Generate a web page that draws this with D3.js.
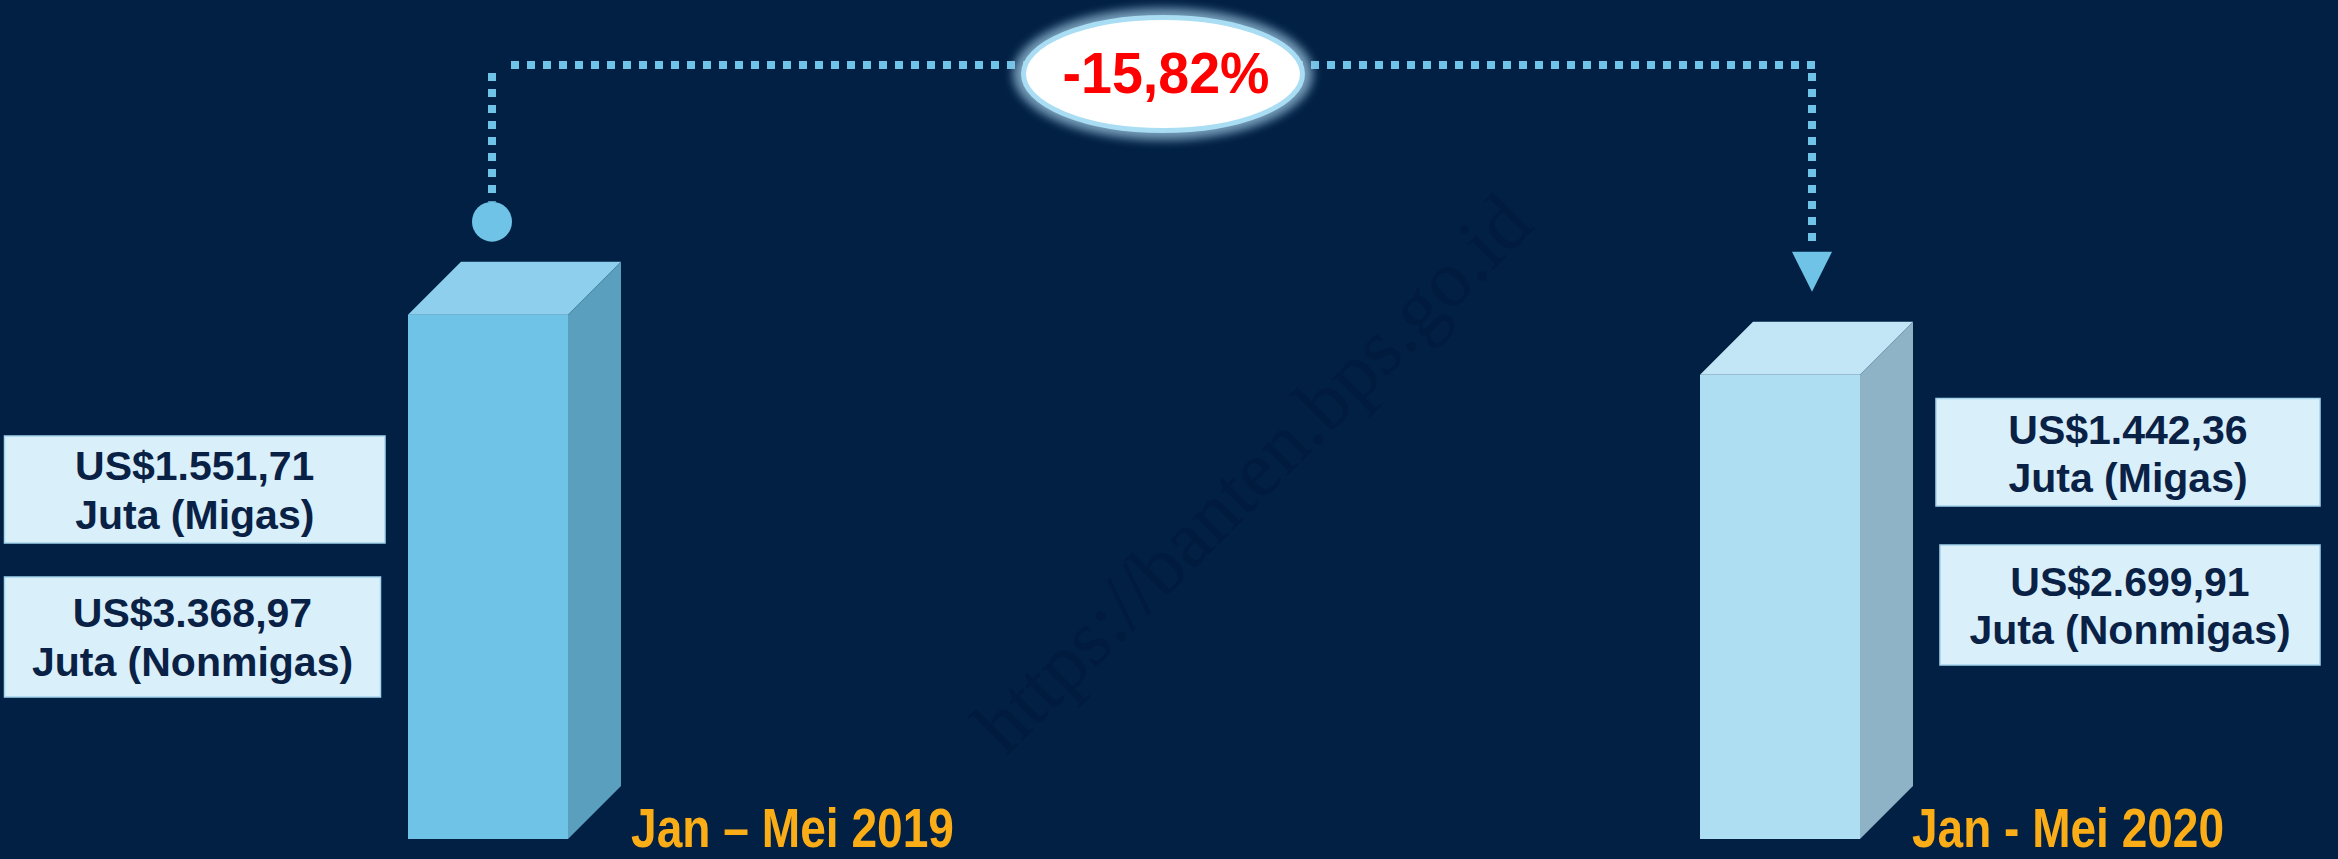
<!DOCTYPE html>
<html>
<head>
<meta charset="utf-8">
<script src="https://cdn.jsdelivr.net/npm/d3@7"></script>
<style>
  html, body { margin: 0; padding: 0; background: #012044; }
  svg { display: block; }
</style>
</head>
<body>
<div id="chart"></div>
<script>
/* global d3 */

// data
const categories = ["Jan \u2013 Mei 2019", "Jan - Mei 2020"];
const migas = [1551.71, 1442.36];
const nonmigas = [3368.97, 2699.91];
const watermark = "https://banten.bps.go.id";

const W = 2338, H = 859;
const barW = 160, depth = 53;
const yFloor = -1860;

const frontColors = ["#6ec3e6", "#aedef2"];
const topColors = ["#8dcfec", "#c3e6f6"];
const sideColors = ["#5a9fbe", "#8fb3c6"];

const idLocale = d3.formatLocale({
    decimal: ",",
    thousands: ".",
    grouping: [3],
    currency: ["US$", ""],
    minus: "-"
});
const money = idLocale.format("$,.2f");
const pct = idLocale.format(".2%");

let totals = categories.map((c, i) => migas[i] + nonmigas[i]);

let svg = d3.select("#chart").append("svg")
    .attr("width", W)
    .attr("height", H);

svg.append("rect")
    .attr("width", W)
    .attr("height", H)
    .attr("fill", "#012044");

let defs = svg.append("defs");
defs.append("filter")
    .attr("id", "glow")
    .attr("x", "-30%").attr("y", "-30%")
    .attr("width", "160%").attr("height", "160%")
    .append("feGaussianBlur")
    .attr("stdDeviation", 5);

let x = d3.scalePoint().domain(categories).range([488, 1780]);
let y = d3.scaleLinear().domain([yFloor, 5000]).range([839, 308.5]);

// watermark
svg.append("text")
    .attr("transform", "translate(1006,757) rotate(-45)")
    .attr("font-family", "'Liberation Serif', 'DejaVu Serif', serif")
    .attr("font-size", 80)
    .attr("fill", "#011b3f")
    .attr("textLength", 749)
    .attr("lengthAdjust", "spacingAndGlyphs")
    .text(watermark);

// 3D bars
let bars = svg.append("g").selectAll("g")
    .data(categories)
    .join("g");

let pts = p => p.map(d => d.join(",")).join(" ");

bars.append("rect")
    .attr("x", d => x(d) - barW / 2)
    .attr("y", (d, i) => y(totals[i]))
    .attr("width", barW)
    .attr("height", (d, i) => y(yFloor) - y(totals[i]))
    .attr("fill", (d, i) => frontColors[i]);

bars.append("polygon")
    .attr("points", (d, i) => {
        let l = x(d) - barW / 2, r = x(d) + barW / 2, t = y(totals[i]);
        return pts([[l, t], [l + depth, t - depth], [r + depth, t - depth], [r, t]]);
    })
    .attr("fill", (d, i) => topColors[i]);

bars.append("polygon")
    .attr("points", (d, i) => {
        let r = x(d) + barW / 2, t = y(totals[i]), b = y(yFloor);
        return pts([[r, t], [r + depth, t - depth], [r + depth, b - depth], [r, b]]);
    })
    .attr("fill", (d, i) => sideColors[i]);

// category labels
let catDx = [143, 132];
let catLen = [323, 312];
bars.append("text")
    .attr("x", (d, i) => x(d) + catDx[i])
    .attr("y", 847)
    .attr("font-family", "'Liberation Sans Narrow', 'Arial Narrow', 'Liberation Sans', Arial, sans-serif")
    .attr("font-weight", "bold")
    .attr("font-size", 56)
    .attr("fill", "#fbad18")
    .attr("textLength", (d, i) => catLen[i])
    .attr("lengthAdjust", "spacingAndGlyphs")
    .text(d => d);

// value boxes
let boxes = [
    {cat: 0, lines: [money(migas[0]), "Juta (Migas)"], x0: 4.5, x1: 385, y0: 436, h: 107, t: 44},
    {cat: 0, lines: [money(nonmigas[0]), "Juta (Nonmigas)"], x0: 4.5, x1: 380.5, y0: 577, h: 120, t: 50},
    {cat: 1, lines: [money(migas[1]), "Juta (Migas)"], x0: 1936, x1: 2320, y0: 398.5, h: 107.5, t: 45},
    {cat: 1, lines: [money(nonmigas[1]), "Juta (Nonmigas)"], x0: 1940, x1: 2320, y0: 545, h: 120, t: 50.5}
];

let bg = svg.append("g").selectAll("g")
    .data(boxes)
    .join("g");

bg.append("rect")
    .attr("x", d => d.x0)
    .attr("y", d => d.y0)
    .attr("width", d => d.x1 - d.x0)
    .attr("height", d => d.h)
    .attr("fill", "#d9effa")
    .attr("stroke", "#a5d4ec")
    .attr("stroke-width", 1.5);

bg.selectAll("text")
    .data(d => d.lines.map((s, k) => ({s: s, cx: (d.x0 + d.x1) / 2, y: d.y0 + d.t + k * 48.7})))
    .join("text")
    .attr("x", d => d.cx)
    .attr("y", d => d.y)
    .attr("text-anchor", "middle")
    .attr("font-family", "'Liberation Sans', Arial, sans-serif")
    .attr("font-weight", "bold")
    .attr("font-size", 41)
    .attr("fill", "#0a2146")
    .text(d => d.s);

// change connector
let xl = x(categories[0]) + 4;
let xr = x(categories[1]) + 32;
let lineY = 65;
let dotColor = "#6ec3e6";
let conn = svg.append("g")
    .attr("stroke", dotColor)
    .attr("stroke-width", 8)
    .attr("stroke-dasharray", "8 8")
    .attr("fill", "none");

let circY = y(totals[0]) - depth - 40;
let tipY = y(totals[1]) - depth - 30;

conn.append("line")
    .attr("x1", xl).attr("y1", 73)
    .attr("x2", xl).attr("y2", circY - 20);
conn.append("line")
    .attr("x1", 511).attr("y1", lineY)
    .attr("x2", xr + 4).attr("y2", lineY);
conn.append("line")
    .attr("x1", xr).attr("y1", 73)
    .attr("x2", xr).attr("y2", tipY - 48);

svg.append("circle")
    .attr("cx", xl)
    .attr("cy", circY)
    .attr("r", 20)
    .attr("fill", dotColor);

svg.append("polygon")
    .attr("points", pts([[xr - 20, tipY - 40], [xr + 20, tipY - 40], [xr, tipY]]))
    .attr("fill", dotColor);

// change badge
let change = (totals[1] - totals[0]) / totals[0];
let cx = 1163, cy = 74;

svg.append("ellipse")
    .attr("cx", cx).attr("cy", cy)
    .attr("rx", 150).attr("ry", 66)
    .attr("fill", "#9cc6e0")
    .attr("opacity", 0.75)
    .attr("filter", "url(#glow)");

svg.append("ellipse")
    .attr("cx", cx).attr("cy", cy)
    .attr("rx", 139.5).attr("ry", 56.5)
    .attr("fill", "#ffffff")
    .attr("stroke", "#a9ddf3")
    .attr("stroke-width", 5);

svg.append("text")
    .attr("x", cx + 3)
    .attr("y", 92.5)
    .attr("text-anchor", "middle")
    .attr("font-family", "'Liberation Sans', Arial, sans-serif")
    .attr("font-weight", "bold")
    .attr("font-size", 57)
    .attr("fill", "#ff0000")
    .attr("textLength", 207)
    .attr("lengthAdjust", "spacingAndGlyphs")
    .text(pct(change));
</script>
</body>
</html>
